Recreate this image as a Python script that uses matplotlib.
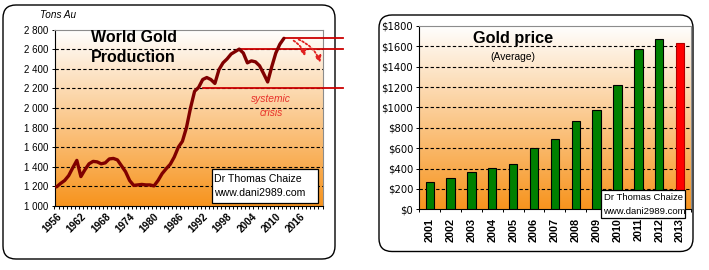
import numpy as np
import matplotlib
matplotlib.use('Agg')
import matplotlib.pyplot as plt
from matplotlib.patches import FancyBboxPatch, FancyArrowPatch, Rectangle
from matplotlib.transforms import IdentityTransform
from matplotlib.ticker import FuncFormatter

plt.rcParams['font.family'] = ['Liberation Sans', 'DejaVu Sans']

# ---------------- data ----------------
prod_years = list(range(1956, 2013))
prod_tons = [1195, 1230, 1260, 1310, 1390, 1465, 1300, 1370, 1430, 1455,
             1450, 1430, 1440, 1480, 1485, 1470, 1410, 1350, 1260, 1210,
             1215, 1220, 1215, 1215, 1205, 1260, 1330, 1380, 1425, 1500,
             1600, 1660, 1800, 2000, 2170, 2210, 2290, 2310, 2290, 2250,
             2390, 2460, 2500, 2550, 2575, 2600, 2560, 2460, 2480, 2470,
             2430, 2350, 2265, 2420, 2560, 2650, 2710]
prod_tick_years = [1956, 1962, 1968, 1974, 1980, 1986, 1992, 1998, 2004, 2010, 2016]
level_start_years = [2012, 2001, 1992]
level_values = [2710, 2600, 2200]

price_years = ['2001', '2002', '2003', '2004', '2005', '2006', '2007',
               '2008', '2009', '2010', '2011', '2012', '2013']
price_usd = [271, 310, 363, 410, 445, 604, 695, 872, 972, 1225, 1572, 1669, 1630]

W, H = 709, 270
fig = plt.figure(figsize=(W / 100, H / 100), dpi=100)


def axes_px(l, t, r, b):
    return fig.add_axes([l / W, 1 - b / H, (r - l) / W, (b - t) / H])


def ftext(px, py, s, **kw):
    return fig.text(px / W, 1 - py / H, s, **kw)


# panel borders (pixel coords)
for (x0, y0, x1, y1) in [(3, 5, 335, 259), (379, 15, 693, 251.5)]:
    p = FancyBboxPatch((x0, H - y1), x1 - x0, y1 - y0,
                       boxstyle='round,pad=0,rounding_size=13',
                       transform=IdentityTransform(), fc='white', ec='black',
                       lw=1.0, zorder=-5)
    fig.add_artist(p)

top_c = np.array([255, 255, 255]) / 255
bot_c = np.array([247, 148, 30]) / 255
g = np.linspace(0, 1, 256)[:, None, None]
grad = top_c * (1 - g) + bot_c * g


def style_axes(ax):
    for s in ['left', 'bottom']:
        ax.spines[s].set_color('black')
        ax.spines[s].set_linewidth(0.8)
    for s in ['top', 'right']:
        ax.spines[s].set_color('#8c8c8c')
        ax.spines[s].set_linewidth(0.8)


# ---------------- left chart ----------------
ax1 = axes_px(54.5, 29.5, 322.5, 206)
xl = (min(prod_years) - 0.5, 2021.5)
yl = (1000, 2800)
ax1.imshow(grad, extent=(xl[0], xl[1], yl[0], yl[1]), aspect='auto',
           zorder=0, interpolation='bilinear')
ax1.set_xlim(*xl)
ax1.set_ylim(*yl)
yt = list(range(1000, 2801, 200))
ax1.set_yticks(yt)
ax1.yaxis.set_major_formatter(FuncFormatter(lambda v, p: f"{int(v):,}".replace(',', ' ')))
for v in yt[1:-1]:
    ax1.axhline(v, color='black', lw=0.8, ls=(0, (3, 2)), zorder=1)
ax1.plot(prod_years, prod_tons, color='#800000', lw=2.4, zorder=4,
         solid_joinstyle='round', solid_capstyle='round')
# level lines
for ys, lv in zip(level_start_years, level_values):
    ax1.plot([ys, 2026.6], [lv, lv], color='#cc0000', lw=1.3, zorder=3, clip_on=False)
# dotted arrows
for (a, b) in [((2013.8, 2700), (2017.3, 2500)), ((2015.0, 2708), (2021.2, 2435))]:
    arr = FancyArrowPatch(a, b, connectionstyle='arc3,rad=-0.25', arrowstyle='-|>',
                          mutation_scale=9, color='#e02020', lw=1.3,
                          linestyle=(0, (1, 1.2)), zorder=5)
    ax1.add_patch(arr)

ax1.set_xticks(prod_tick_years)
ax1.set_xticklabels([str(y) for y in prod_tick_years], rotation=45, ha='right',
                    va='top', rotation_mode='anchor', fontsize=7.3, fontweight='bold')
ax1.set_xticks(np.arange(xl[0], xl[1] + 0.01, 1), minor=True)
ax1.tick_params(axis='x', which='major', length=0, pad=4)
ax1.tick_params(axis='x', which='minor', length=2.5, width=0.7, direction='out')
ax1.tick_params(axis='y', length=2.5, width=0.7, direction='out', labelsize=7.0, pad=2)
style_axes(ax1)

ftext(40, 15, 'Tons Au', fontsize=7.2, fontstyle='italic', ha='left', va='center')
ftext(91, 37, 'World Gold', fontsize=11.5, fontweight='bold', ha='left', va='center')
ftext(91, 58, 'Production', fontsize=11.5, fontweight='bold', ha='left', va='center')
ftext(271, 99, 'systemic', fontsize=7.4, fontstyle='italic', color='#e8302a',
      ha='center', va='center')
ftext(271, 113, 'crisis', fontsize=7.4, fontstyle='italic', color='#e8302a',
      ha='center', va='center')

fig.add_artist(Rectangle((211.7, H - 202.7), 106.6, 33.4, transform=IdentityTransform(),
                         fc='white', ec='black', lw=0.9, zorder=8))
ftext(214.5, 178.5, 'Dr Thomas Chaize', fontsize=7.6, ha='left', va='center', zorder=9)
ftext(214.5, 193, 'www.dani2989.com', fontsize=7.6, ha='left', va='center', zorder=9)

# ---------------- right chart ----------------
ax2 = axes_px(419.3, 26, 690.5, 209.3)
xr = (-0.5, len(price_years) - 0.5)
yr = (0, 1800)
ax2.imshow(grad, extent=(xr[0], xr[1], yr[0], yr[1]), aspect='auto',
           zorder=0, interpolation='bilinear')
ax2.set_xlim(*xr)
ax2.set_ylim(*yr)
yt2 = list(range(0, 1801, 200))
ax2.set_yticks(yt2)
ax2.yaxis.set_major_formatter(FuncFormatter(lambda v, p: f"${int(v)}"))
for v in yt2[1:-1]:
    ax2.axhline(v, color='black', lw=0.8, ls=(0, (3, 2)), zorder=1)
colors = ['#008000'] * (len(price_years) - 1) + ['#ff0000']
edges = ['black'] * (len(price_years) - 1) + ['#b00000']
xs = np.arange(len(price_years))
ax2.bar(xs, price_usd, width=0.4, color=colors, edgecolor=edges, linewidth=0.8, zorder=3)
ax2.set_xticks(xs)
ax2.set_xticklabels(price_years, rotation=90, fontsize=7.8, fontweight='bold')
ax2.set_xticks(np.arange(xr[0], xr[1] + 0.01, 1), minor=True)
ax2.tick_params(axis='x', which='major', length=0, pad=6)
ax2.tick_params(axis='x', which='minor', length=2.5, width=0.7, direction='out')
ax2.tick_params(axis='y', length=2.5, width=0.7, direction='out', pad=2)
for lab in ax2.get_yticklabels():
    lab.set_fontfamily('DejaVu Sans')
    lab.set_fontsize(7.2)
style_axes(ax2)

ftext(513, 38, 'Gold price', fontsize=11.7, fontweight='bold', ha='center', va='center')
ftext(513, 57, '(Average)', fontsize=7.4, ha='center', va='center')

fig.add_artist(Rectangle((600.7, H - 218.3), 84.3, 28.3, transform=IdentityTransform(),
                         fc='white', ec='black', lw=0.9, zorder=8))
ftext(603.5, 198, 'Dr Thomas Chaize', fontsize=6.8, ha='left', va='center', zorder=9)
ftext(603.5, 211.5, 'www.dani2989.com', fontsize=6.8, ha='left', va='center', zorder=9)

fig.savefig('out.png', dpi=100)
